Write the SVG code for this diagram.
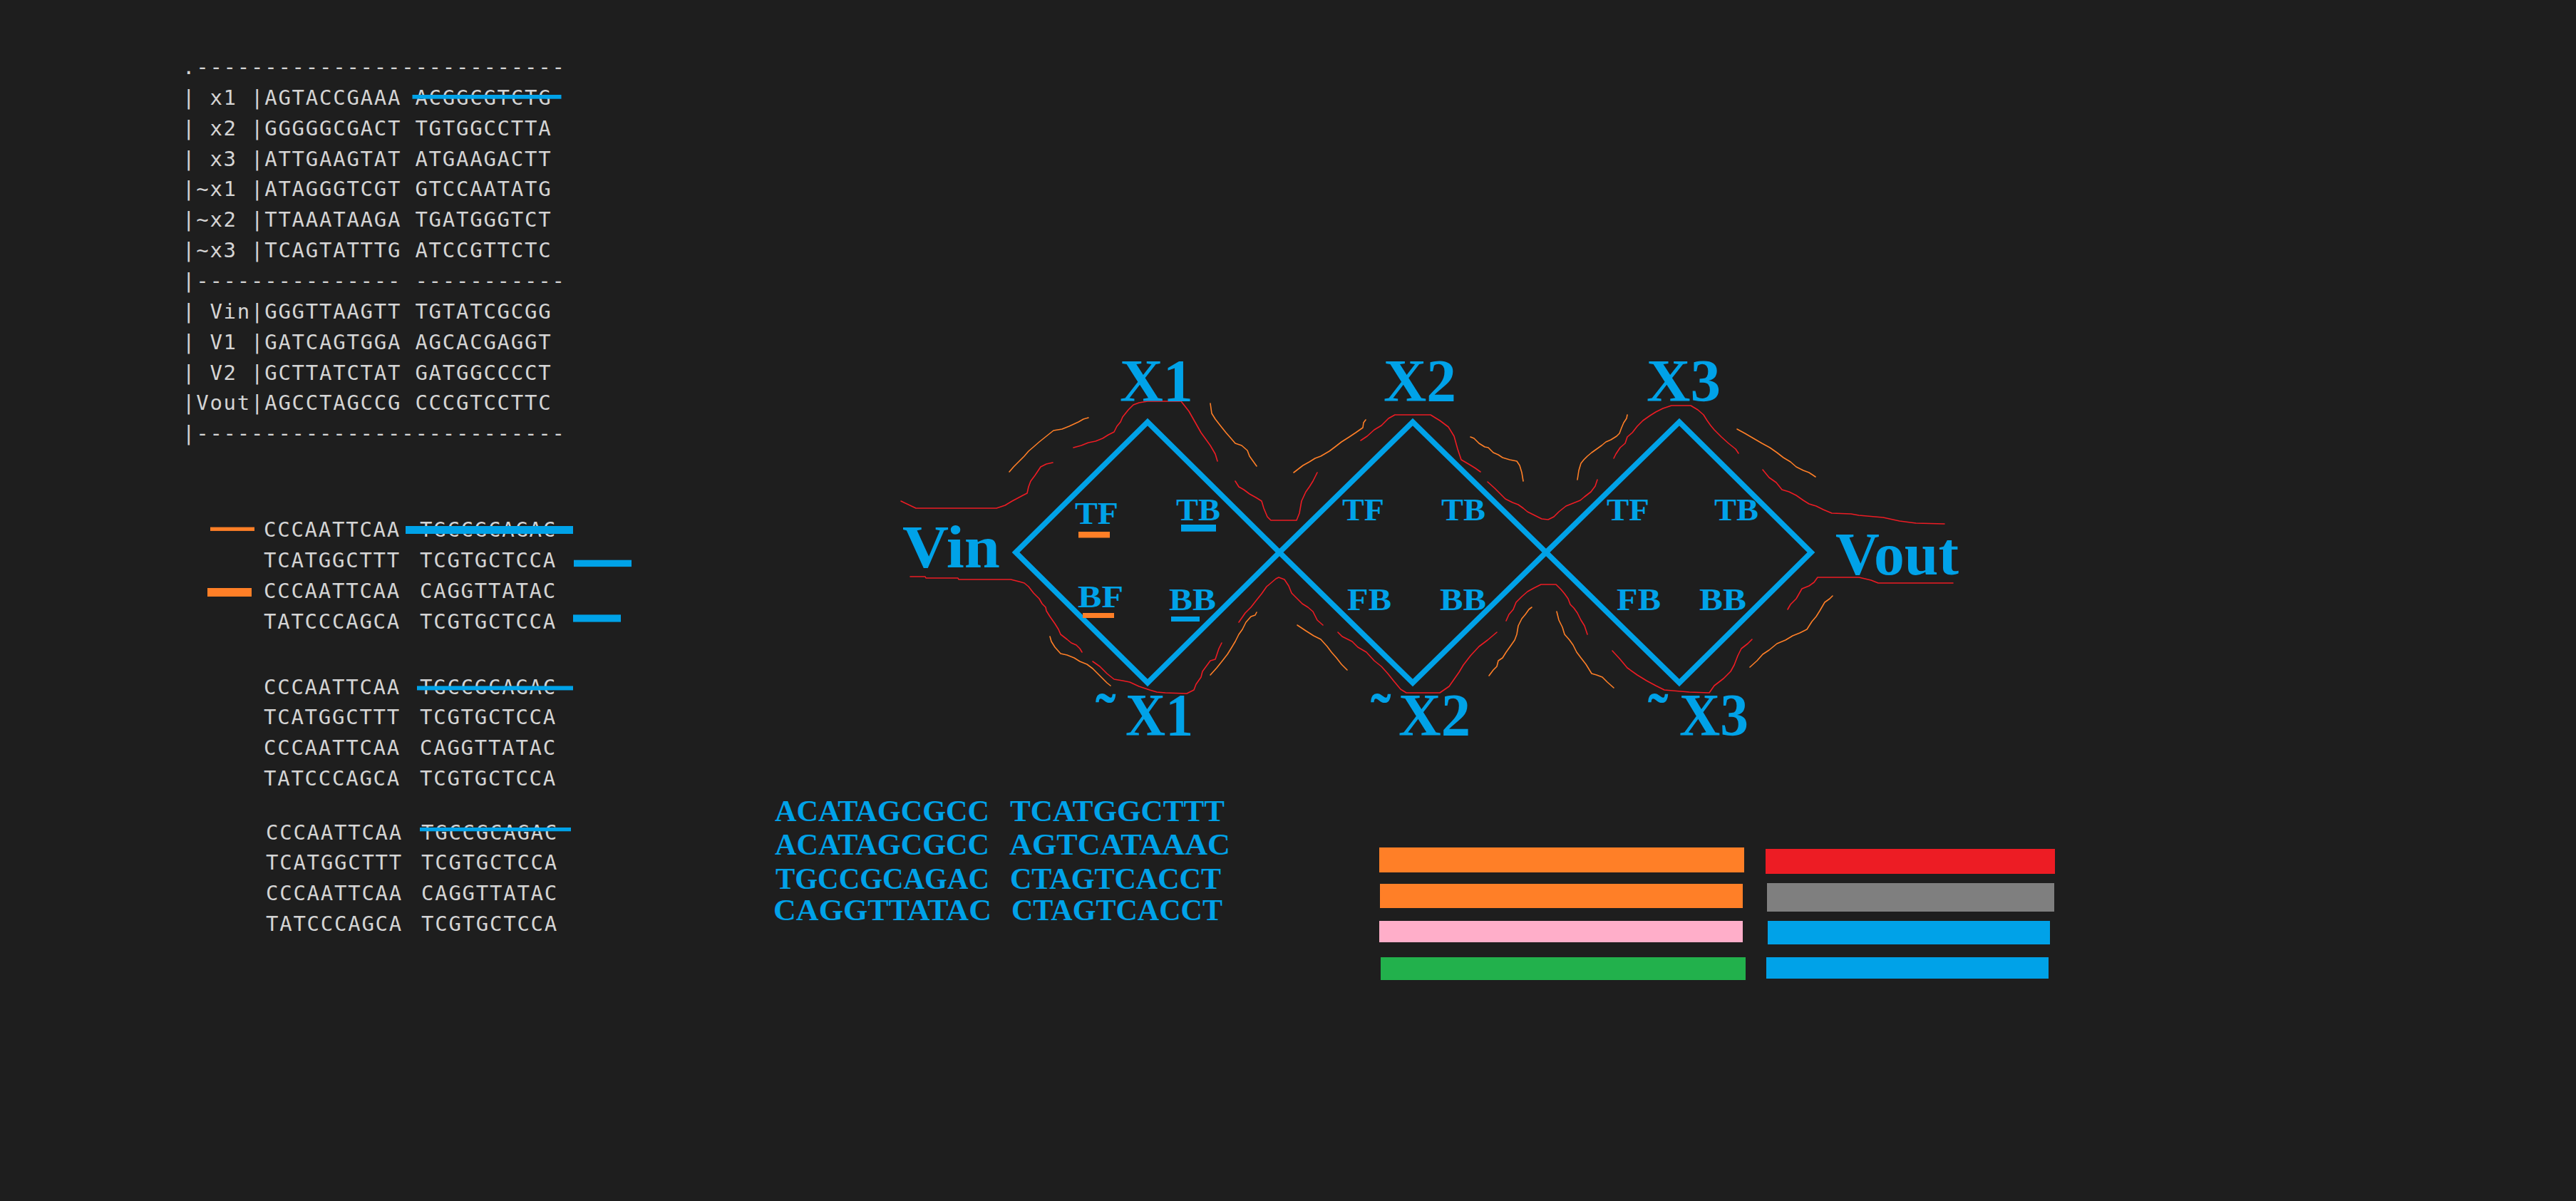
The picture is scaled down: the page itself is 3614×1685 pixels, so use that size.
<svg xmlns="http://www.w3.org/2000/svg" width="3614" height="1685" viewBox="0 0 3614 1685" xml:space="preserve">
<style>
.mono{font-family:"DejaVu Sans Mono","Liberation Mono",monospace;font-size:29px;letter-spacing:1.74px;fill:#d4d4d4;white-space:pre}
.lbl{font-family:"Liberation Serif","Times New Roman",serif;font-weight:bold;fill:#00a2e8}
.big{font-size:85px}
.sm{font-size:45px}
.seq{font-size:43px}
.dia{fill:none;stroke:#00a2e8;stroke-width:7.5;stroke-linejoin:miter;stroke-miterlimit:10}
.r{fill:none;stroke:#ed1c24;stroke-width:1.6;stroke-linejoin:round;stroke-linecap:round}
.o{fill:none;stroke:#ff7f27;stroke-width:1.6;stroke-linejoin:round;stroke-linecap:round}
.bl{fill:#00a2e8}
.or{fill:#ff7f27}
</style>
<rect x="0" y="0" width="3614" height="1685" fill="#1e1e1e"/>

<g id="table">
<text class="mono" x="256" y="104">.---------------------------</text>
<text class="mono" x="256" y="146.8">| x1 |AGTACCGAAA ACGGCGTCTG</text>
<text class="mono" x="256" y="189.6">| x2 |GGGGGCGACT TGTGGCCTTA</text>
<text class="mono" x="256" y="232.5">| x3 |ATTGAAGTAT ATGAAGACTT</text>
<text class="mono" x="256" y="275.4">|~x1 |ATAGGGTCGT GTCCAATATG</text>
<text class="mono" x="256" y="318.2">|~x2 |TTAAATAAGA TGATGGGTCT</text>
<text class="mono" x="256" y="361.1">|~x3 |TCAGTATTTG ATCCGTTCTC</text>
<text class="mono" x="256" y="403.9">|--------------- -----------</text>
<text class="mono" x="256" y="446.8">| Vin|GGGTTAAGTT TGTATCGCGG</text>
<text class="mono" x="256" y="489.6">| V1 |GATCAGTGGA AGCACGAGGT</text>
<text class="mono" x="256" y="532.5">| V2 |GCTTATCTAT GATGGCCCCT</text>
<text class="mono" x="256" y="575.4">|Vout|AGCCTAGCCG CCCGTCCTTC</text>
<text class="mono" x="256" y="618.2">|---------------------------</text>
<rect class="bl" x="578.5" y="133" width="209" height="5.7"/>
</g>

<g id="block-1">
<text class="mono" x="370" y="753">CCCAATTCAA</text><text class="mono" x="589" y="753">TGCCGCAGAC</text>
<text class="mono" x="370" y="796">TCATGGCTTT</text><text class="mono" x="589" y="796">TCGTGCTCCA</text>
<text class="mono" x="370" y="838.8">CCCAATTCAA</text><text class="mono" x="589" y="838.8">CAGGTTATAC</text>
<text class="mono" x="370" y="881.6">TATCCCAGCA</text><text class="mono" x="589" y="881.6">TCGTGCTCCA</text>
<rect class="or" x="295" y="739.6" width="62" height="5.3"/>
<rect class="bl" x="569" y="738" width="235" height="11"/>
<rect class="bl" x="805" y="785.7" width="81" height="9.4"/>
<rect class="or" x="291" y="825" width="62" height="12"/>
<rect class="bl" x="804" y="862.4" width="67" height="10.2"/>
</g>

<g id="block-2">
<text class="mono" x="370" y="973.5">CCCAATTCAA</text><text class="mono" x="589" y="973.5">TGCCGCAGAC</text>
<text class="mono" x="370" y="1016.3">TCATGGCTTT</text><text class="mono" x="589" y="1016.3">TCGTGCTCCA</text>
<text class="mono" x="370" y="1059.2">CCCAATTCAA</text><text class="mono" x="589" y="1059.2">CAGGTTATAC</text>
<text class="mono" x="370" y="1102">TATCCCAGCA</text><text class="mono" x="589" y="1102">TCGTGCTCCA</text>
<rect class="bl" x="585" y="962.4" width="219" height="6"/>
</g>

<g id="block-3">
<text class="mono" x="373" y="1177.6">CCCAATTCAA</text><text class="mono" x="591" y="1177.6">TGCCGCAGAC</text>
<text class="mono" x="373" y="1220.4">TCATGGCTTT</text><text class="mono" x="591" y="1220.4">TCGTGCTCCA</text>
<text class="mono" x="373" y="1263.3">CCCAATTCAA</text><text class="mono" x="591" y="1263.3">CAGGTTATAC</text>
<text class="mono" x="373" y="1306.1">TATCCCAGCA</text><text class="mono" x="591" y="1306.1">TCGTGCTCCA</text>
<rect class="bl" x="589" y="1161" width="212" height="5.3"/>
</g>

<g id="curves">
<path class="r" d="M1264,703 L1285,713 L1398,713 L1410,709 L1420,703 L1435,695 L1441,692 L1443,683 L1446,675 L1452,667 L1460,655 L1468,651 L1477,649"/>
<path class="o" d="M1416,662 L1422,655 L1430,647 L1437,640 L1443,633 L1450,627 L1458,620 L1468,612 L1478,604 L1490,602 L1500,598 L1513,592 L1520,588 L1527,586"/>
<path class="r" d="M1506,628 L1517,625 L1527,621 L1537,619 L1547,615 L1555,610 L1563,606 L1567,598 L1572,592 L1575,585 L1583,575 L1590,568 L1598,565 L1610,563 L1657,563 L1668,577 L1685,607 L1698,625 L1705,637 L1708,647"/>
<path class="r" d="M1277,809 L1298,809 L1299,811 L1344,811 L1345,813 L1418,813 L1430,816 L1437,818 L1443,823 L1450,832 L1458,840 L1462,847 L1467,852 L1468,857 L1473,865 L1480,875 L1485,883 L1488,890 L1497,897 L1503,902 L1510,905 L1515,910 L1518,915"/>
<path class="o" d="M1473,893 L1475,900 L1480,908 L1488,917 L1497,919 L1507,923 L1515,928 L1525,932 L1533,938 L1540,945 L1547,952 L1553,958 L1558,962"/>
<path class="r" d="M1533,928 L1543,935 L1553,945 L1563,953 L1575,955 L1585,957 L1598,963 L1613,968 L1623,971 L1635,972 L1665,973 L1675,968 L1678,960 L1685,950 L1687,942 L1698,927 L1705,925 L1710,910 L1714,902"/>
<path class="o" d="M1698,566 L1700,580 L1705,588 L1712,597 L1720,607 L1727,615 L1733,622 L1742,625 L1750,632 L1753,640 L1758,647 L1763,654"/>
<path class="r" d="M1733,675 L1738,683 L1745,687 L1753,693 L1762,698 L1770,703 L1773,713 L1778,725 L1783,730 L1819,730 L1823,720 L1826,703 L1832,690 L1837,683 L1842,675 L1848,663"/>
<path class="o" d="M1815,663 L1828,653 L1837,648 L1845,643 L1853,640 L1865,633 L1873,627 L1882,620 L1893,613 L1902,607 L1912,600 L1913,593 L1916,589"/>
<path class="r" d="M1909,618 L1918,612 L1928,603 L1938,597 L1948,587 L1957,582 L2007,582 L2015,587 L2020,590 L2032,599 L2040,612 L2045,630 L2050,645 L2062,652 L2070,657 L2077,662"/>
<path class="r" d="M1738,873 L1747,860 L1755,852 L1762,843 L1770,833 L1777,823 L1783,818 L1790,812 L1794,810 L1802,813 L1808,822 L1812,832 L1820,840 L1827,847 L1835,852 L1842,858 L1848,870 L1856,877"/>
<path class="o" d="M1698,947 L1707,937 L1715,927 L1722,918 L1727,910 L1733,900 L1738,890 L1743,883 L1748,873 L1755,865 L1761,863 L1763,859"/>
<path class="o" d="M1820,877 L1832,885 L1843,892 L1853,897 L1862,907 L1868,915 L1875,923 L1882,932 L1890,940"/>
<path class="r" d="M1877,887 L1883,893 L1897,900 L1905,908 L1917,915 L1928,927 L1938,935 L1947,945 L1955,955 L1965,967 L1973,972 L2020,972 L2033,963 L2040,953 L2047,943 L2053,933 L2063,920 L2075,907 L2087,898 L2100,887"/>
<path class="o" d="M2063,613 L2068,615 L2075,622 L2083,627 L2088,628 L2095,635 L2102,638 L2108,642 L2118,645 L2128,647 L2132,653 L2135,663 L2137,675"/>
<path class="r" d="M2087,676 L2097,685 L2105,693 L2112,700 L2122,705 L2130,708 L2137,713 L2143,718 L2153,723 L2163,728 L2172,729 L2180,725 L2187,718 L2197,710 L2207,706 L2217,702 L2223,697 L2232,690 L2238,682 L2241,673"/>
<path class="o" d="M2213,673 L2215,660 L2218,650 L2222,645 L2227,640 L2233,635 L2240,630 L2247,625 L2253,620 L2260,617 L2268,612 L2272,608 L2275,600 L2278,593 L2282,587 L2283,582"/>
<path class="r" d="M2264,643 L2267,637 L2273,628 L2280,622 L2283,613 L2290,607 L2297,598 L2305,590 L2315,583 L2323,578 L2333,573 L2345,569 L2372,569 L2382,575 L2390,582 L2395,590 L2400,597 L2405,603 L2415,613 L2425,622 L2435,630 L2439,636"/>
<path class="r" d="M2113,871 L2117,862 L2123,855 L2127,845 L2135,837 L2143,830 L2152,825 L2162,820 L2183,820 L2190,827 L2195,833 L2200,840 L2203,848 L2208,853 L2213,860 L2218,870 L2223,878 L2227,890"/>
<path class="o" d="M2089,948 L2095,940 L2100,935 L2102,927 L2108,923 L2113,915 L2118,908 L2125,898 L2128,890 L2130,878 L2135,868 L2140,862 L2145,855 L2149,852"/>
<path class="o" d="M2184,858 L2187,870 L2192,880 L2195,890 L2202,898 L2207,905 L2212,915 L2218,923 L2225,932 L2233,945 L2240,947 L2248,950 L2255,957 L2264,965"/>
<path class="r" d="M2262,913 L2273,925 L2283,937 L2297,947 L2310,955 L2323,962 L2335,968 L2370,971 L2398,972 L2405,962 L2418,952 L2428,942 L2433,933 L2438,920 L2443,910 L2452,903 L2458,897"/>
<path class="o" d="M2437,602 L2448,608 L2460,615 L2472,622 L2483,628 L2493,635 L2502,642 L2512,648 L2520,655 L2530,660 L2538,663 L2547,669"/>
<path class="r" d="M2473,659 L2482,670 L2492,677 L2500,687 L2510,690 L2520,695 L2530,702 L2538,707 L2548,710 L2558,715 L2570,720 L2597,721 L2608,723 L2642,726 L2665,731 L2688,734 L2728,735"/>
<path class="r" d="M2508,855 L2512,848 L2520,840 L2528,826 L2538,822 L2545,817 L2550,810 L2608,810 L2625,814 L2635,818 L2740,818"/>
<path class="o" d="M2455,936 L2465,927 L2473,918 L2482,912 L2493,903 L2505,898 L2515,892 L2525,888 L2535,883 L2542,872 L2548,865 L2553,857 L2560,845 L2567,840 L2571,836"/>
</g>

<g id="diamond-1">
<polygon class="dia" points="1425,775 1610,592 1795,775 1610,958"/>
<text class="lbl sm" x="1508" y="735" textLength="61" lengthAdjust="spacingAndGlyphs">TF</text>
<text class="lbl sm" x="1650" y="730" textLength="62" lengthAdjust="spacingAndGlyphs">TB</text>
<text class="lbl sm" x="1512" y="852" textLength="64" lengthAdjust="spacingAndGlyphs">BF</text>
<text class="lbl sm" x="1640" y="856" textLength="66" lengthAdjust="spacingAndGlyphs">BB</text>
<rect class="or" x="1513" y="746" width="44" height="8.5"/>
<rect class="bl" x="1657" y="736" width="49" height="9.7"/>
<rect class="or" x="1519" y="860" width="44" height="7"/>
<rect class="bl" x="1643" y="865" width="40" height="7"/>
</g>
<g id="diamond-2">
<polygon class="dia" points="1795,775 1982,592 2169,775 1982,958"/>
<text class="lbl sm" x="1883" y="730" textLength="59" lengthAdjust="spacingAndGlyphs">TF</text>
<text class="lbl sm" x="2022" y="730" textLength="62" lengthAdjust="spacingAndGlyphs">TB</text>
<text class="lbl sm" x="1890" y="856" textLength="62" lengthAdjust="spacingAndGlyphs">FB</text>
<text class="lbl sm" x="2020" y="856" textLength="65" lengthAdjust="spacingAndGlyphs">BB</text>
</g>
<g id="diamond-3">
<polygon class="dia" points="2169,775 2356,592 2541,775 2356,958"/>
<text class="lbl sm" x="2254" y="730" textLength="60" lengthAdjust="spacingAndGlyphs">TF</text>
<text class="lbl sm" x="2405" y="730" textLength="62" lengthAdjust="spacingAndGlyphs">TB</text>
<text class="lbl sm" x="2268" y="856" textLength="62" lengthAdjust="spacingAndGlyphs">FB</text>
<text class="lbl sm" x="2384" y="856" textLength="66" lengthAdjust="spacingAndGlyphs">BB</text>
</g>

<g id="label-Vin"><text class="lbl big" x="1266" y="796" textLength="137" lengthAdjust="spacingAndGlyphs">Vin</text></g>
<g id="label-Vout"><text class="lbl big" x="2575" y="806" textLength="173" lengthAdjust="spacingAndGlyphs">Vout</text></g>
<g id="label-X1"><text class="lbl big" x="1571" y="563" textLength="103" lengthAdjust="spacingAndGlyphs">X1</text></g>
<g id="label-X2"><text class="lbl big" x="1941" y="563" textLength="102" lengthAdjust="spacingAndGlyphs">X2</text></g>
<g id="label-X3"><text class="lbl big" x="2310" y="563" textLength="104" lengthAdjust="spacingAndGlyphs">X3</text></g>
<g id="label-nX1"><text class="lbl big" x="1537" y="1032">˜</text><text class="lbl big" x="1579" y="1032" textLength="95" lengthAdjust="spacingAndGlyphs">X1</text></g>
<g id="label-nX2"><text class="lbl big" x="1923" y="1032">˜</text><text class="lbl big" x="1962" y="1032" textLength="101" lengthAdjust="spacingAndGlyphs">X2</text></g>
<g id="label-nX3"><text class="lbl big" x="2312" y="1032">˜</text><text class="lbl big" x="2356" y="1032" textLength="97" lengthAdjust="spacingAndGlyphs">X3</text></g>

<g id="sequences">
<text class="lbl seq" x="1087" y="1152" textLength="301" lengthAdjust="spacingAndGlyphs">ACATAGCGCC</text>
<text class="lbl seq" x="1417" y="1152" textLength="301" lengthAdjust="spacingAndGlyphs">TCATGGCTTT</text>
<text class="lbl seq" x="1087" y="1199" textLength="301" lengthAdjust="spacingAndGlyphs">ACATAGCGCC</text>
<text class="lbl seq" x="1416" y="1199" textLength="310" lengthAdjust="spacingAndGlyphs">AGTCATAAAC</text>
<text class="lbl seq" x="1088" y="1247" textLength="300" lengthAdjust="spacingAndGlyphs">TGCCGCAGAC</text>
<text class="lbl seq" x="1417" y="1247" textLength="296" lengthAdjust="spacingAndGlyphs">CTAGTCACCT</text>
<text class="lbl seq" x="1085" y="1291" textLength="306" lengthAdjust="spacingAndGlyphs">CAGGTTATAC</text>
<text class="lbl seq" x="1419" y="1291" textLength="296" lengthAdjust="spacingAndGlyphs">CTAGTCACCT</text>
</g>

<g id="swatches">
<rect x="1935" y="1189" width="512" height="35" fill="#ff7f27"/>
<rect x="1936" y="1240" width="509" height="34" fill="#ff7f27"/>
<rect x="1935" y="1292" width="510" height="30" fill="#ffaec9"/>
<rect x="1937" y="1343" width="512" height="32" fill="#22b14c"/>
<rect x="2477" y="1191" width="406" height="35" fill="#ed1c24"/>
<rect x="2479" y="1239" width="403" height="40" fill="#7f7f7f"/>
<rect x="2480" y="1292" width="396" height="33" fill="#00a2e8"/>
<rect x="2478" y="1343" width="396" height="30" fill="#00a2e8"/>
</g>
</svg>
